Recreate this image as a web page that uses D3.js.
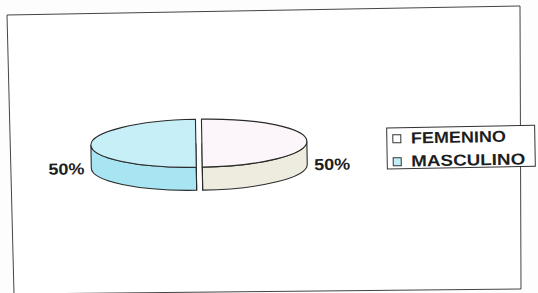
<!DOCTYPE html>
<html>
<head>
<meta charset="utf-8">
<script src="https://cdn.jsdelivr.net/npm/d3@7"></script>
<style>
  body { margin: 0; background: #fdfdfd; }
  svg { display: block; }
  text { font-family: "Liberation Sans", Arial, sans-serif; font-weight: bold; fill: #1e1e1e; }
</style>
</head>
<body>
<div id="chart"></div>
<script>
// data
var categories = ["FEMENINO", "MASCULINO"];
var values = [50, 50];
var pctLabels = ["50%", "50%"];

var topColor = {FEMENINO: "#fcf5f9", MASCULINO: "#c6eff8"};
var sideColor = {FEMENINO: "#eeecdf", MASCULINO: "#a8e5f3"};
var swatchColor = {FEMENINO: "#ffffff", MASCULINO: "#c2eef8"};

var width = 538, height = 293;

var svg = d3.select("#chart").append("svg")
    .attr("width", width)
    .attr("height", height);

// scanned frame (slightly skewed)
svg.append("path")
    .attr("d", "M7,15 L520,6 L521,289 L14,294 Z")
    .attr("fill", "#ffffff")
    .attr("stroke", "#444")
    .attr("stroke-width", 1);

// the whole chart is a little rotated on the scan
var g = svg.append("g")
    .attr("transform", "rotate(-1,269,150)");

var cx = 199, cy = 142, rx = 105, ry = 24, depth = 23, explode = 3;

var pie = d3.pie()
    .sort(null)
    .startAngle(0)
    .endAngle(2 * Math.PI)
    .value(function(d) { return d.value; });

var data = categories.map(function(c, i) { return {key: c, value: values[i], label: pctLabels[i]}; });
var slices = pie(data);

slices.forEach(function(d) {
    var mid = (d.startAngle + d.endAngle) / 2;
    d.ox = Math.sin(mid) * explode;
    d.oy = -Math.cos(mid) * explode * ry / rx;
    d.mid = mid;
});

function pt(d, a, dy) {
    return [cx + d.ox + Math.sin(a) * rx, cy + d.oy + dy - Math.cos(a) * ry];
}
function center(d, dy) {
    return [cx + d.ox, cy + d.oy + dy];
}

function topPath(d) {
    var c = center(d, 0), p0 = pt(d, d.startAngle, 0), p1 = pt(d, d.endAngle, 0);
    var large = (d.endAngle - d.startAngle) > Math.PI ? 1 : 0;
    return "M" + c + "L" + p0 + "A" + rx + "," + ry + " 0 " + large + " 1 " + p1 + "Z";
}

function sidePath(d) {
    var s0 = Math.max(d.startAngle, Math.PI / 2), s1 = Math.min(d.endAngle, 3 * Math.PI / 2);
    if (s0 >= s1) return null;
    return "M" + pt(d, s0, 0) +
        "A" + rx + "," + ry + " 0 0 1 " + pt(d, s1, 0) +
        "L" + pt(d, s1, depth) +
        "A" + rx + "," + ry + " 0 0 0 " + pt(d, s0, depth) + "Z";
}

function facePath(d, a) {
    return "M" + center(d, 0) + "L" + pt(d, a, 0) + "L" + pt(d, a, depth) + "L" + center(d, depth) + "Z";
}

// sides
g.selectAll(".side")
    .data(slices.filter(function(d) { return sidePath(d) !== null; }))
    .enter().append("path")
    .attr("class", "side")
    .attr("d", sidePath)
    .attr("fill", function(d) { return sideColor[d.data.key]; })
    .attr("stroke", "#2a2a2a")
    .attr("stroke-width", 1.1);

// cut faces facing the viewer
slices.forEach(function(d) {
    [d.startAngle, d.endAngle].forEach(function(a) {
        if (a > Math.PI / 2 && a < 3 * Math.PI / 2) {
            g.append("path")
                .attr("d", facePath(d, a))
                .attr("fill", sideColor[d.data.key])
                .attr("stroke", "#2a2a2a")
                .attr("stroke-width", 1.1);
        }
    });
});

// tops
g.selectAll(".top")
    .data(slices)
    .enter().append("path")
    .attr("class", "top")
    .attr("d", topPath)
    .attr("fill", function(d) { return topColor[d.data.key]; })
    .attr("stroke", "#2a2a2a")
    .attr("stroke-width", 1.1);

// percentage labels
g.selectAll(".pct")
    .data(slices)
    .enter().append("text")
    .attr("class", "pct")
    .attr("x", function(d) { return cx + d.ox + Math.sin(d.mid) * (rx + 7); })
    .attr("y", cy + 29)
    .attr("text-anchor", function(d) { return Math.sin(d.mid) > 0 ? "start" : "end"; })
    .attr("textLength", 36)
    .attr("lengthAdjust", "spacingAndGlyphs")
    .style("font-size", "16px")
    .text(function(d) { return d.data.label; });

// legend
var legend = g.append("g").attr("transform", "translate(387,130)");
legend.append("rect")
    .attr("width", 148)
    .attr("height", 41)
    .attr("fill", "#ffffff")
    .attr("stroke", "#333")
    .attr("stroke-width", 1);

var textLen = {FEMENINO: 95, MASCULINO: 114};
var item = legend.selectAll(".item")
    .data(categories)
    .enter().append("g")
    .attr("class", "item")
    .attr("transform", function(d, i) { return "translate(0," + (16 + i * 23) + ")"; });

item.append("rect")
    .attr("x", 6)
    .attr("y", -9)
    .attr("width", 8)
    .attr("height", 8)
    .attr("fill", function(d) { return swatchColor[d]; })
    .attr("stroke", "#333")
    .attr("stroke-width", 1);

item.append("text")
    .attr("x", 24)
    .attr("y", 0)
    .attr("textLength", function(d) { return textLen[d]; })
    .attr("lengthAdjust", "spacingAndGlyphs")
    .style("font-size", "16px")
    .text(function(d) { return d; });
</script>
</body>
</html>
